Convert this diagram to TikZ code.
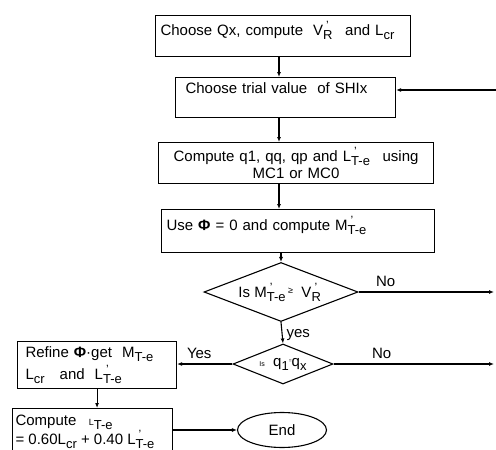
\documentclass[tikz,border=0pt]{standalone}
\usepackage{fontspec}
\setmainfont{Liberation Sans}
\usetikzlibrary{
  shapes.geometric,
  arrows.meta
}
\newcommand{\lowtxt}[1]{\raisebox{-4pt}{\fontsize{13}{13}\selectfont #1}}
\newcommand{\hightxt}[1]{\raisebox{6pt}{\fontsize{12}{12}\selectfont #1}}
\newcommand{\subsup}[2]{\rlap{\lowtxt{#1}}\hspace{3pt}\hightxt{#2}\hspace{-3pt}\hphantom{\lowtxt{#1}}}

\begin{document}
\begin{tikzpicture}[
  x=1pt, y=-1pt,
  line width=1.1pt,
  >={Latex[length=5pt,width=4pt]},
  every node/.style = {font=\fontsize{15}{17}\selectfont, inner sep=0pt},
  box/.style = {shape=rectangle, draw, anchor=north west, inner xsep=5pt},
  lbl/.style = {draw=none}]
  \tikzstyle{decision}=[shape=diamond, draw, aspect=2.6]
  \tikzstyle{flow}=[->]
  \useasboundingbox (0,0) rectangle (496,450);
  \coordinate (spine) at (279,0);
  % main column
  \node[box, minimum width=255, minimum height=41, text width=245, align=left,
    text height=11, text depth=13] (choose) at (155,15)
    {Choose Qx, compute \ V\subsup{R}{'} \ and L\lowtxt{cr}};
  \node[box, minimum width=220, minimum height=40, text width=200, inner xsep=10pt,
    align=left, text height=11, text depth=19] (trial) at (175,77)
    {Choose trial value \ of SHIx};
  \node[box, minimum width=275, minimum height=41, text width=265, align=center] (comp) at (158,142)
    {Compute q1, qq, qp and L\subsup{T-e}{'} \ using\\[0pt] MC1 or MC0};
  \node[box, minimum width=273, minimum height=43, text width=263, align=left,
    text height=11, text depth=13] (use) at (161,209)
    {Use \textbf{Φ} = 0 and compute M\subsup{T-e}{'}};
  \node[decision, minimum width=154, minimum height=59] (cmp) at (281,292)
    {Is M\subsup{T-e}{'}\raisebox{4pt}{\small ≥} \ V\subsup{R}{'}};
  \node[decision, minimum width=100, minimum height=40] (eq) at (283,364)
    {{\scriptsize Is} \ q\lowtxt{1}\raisebox{4pt}{\tiny =}q\lowtxt{x}};
  % left column
  \node[box, minimum width=158, minimum height=47, text width=143, inner xsep=8pt,
    align=left] (refine) at (17,341)
    {Refine \textbf{Φ}·get \ M\lowtxt{T-e}\\[3pt] L\lowtxt{cr} \ \ and \ L\subsup{T-e}{'}};
  \node[box, minimum width=160, minimum height=46, inner xsep=3pt] (final) at (12,408)
    {\raisebox{5pt}{\parbox{154pt}{Compute \ \ {\small L}\lowtxt{T-e}\\[0pt]
      = 0.60L\lowtxt{cr} + 0.40 L\subsup{T-e}{'}}}};
  \node[shape=ellipse, draw, minimum width=89, minimum height=35] (end) at (282,430) {End};
  % free ends on the right
  \coordinate (back) at (496,90);
  \coordinate (out1) at (494,292);
  \coordinate (out2) at (494,364);
  % connectors
  \draw[flow] (choose.south -| spine) -- (trial.north -| spine);
  \draw[flow] (trial.south -| spine) -- (comp.north -| spine);
  \draw[flow] (comp.south -| spine) -- (use.north -| spine);
  \draw[flow] (use.south -| cmp) -- (cmp.north);
  \draw[flow] (cmp.south) -- node[lbl, right, xshift=4pt, yshift=-2pt] (yes) {yes} (eq.north);
  \draw[flow] (cmp.east) -- node[lbl, above, pos=0.2, yshift=5pt] (no1) {No} (out1);
  \draw[flow] (eq.east) -- node[lbl, above, pos=0.3, yshift=5pt] (no2) {No} (out2);
  \draw[flow] (eq.west) -- node[lbl, above, pos=0.6, yshift=5pt] (yes2) {Yes} (eq.west -| refine.east);
  \draw[flow] (back) -- (back -| trial.east);
  \draw[flow] (refine.south) -- (refine.south |- final.north);
  \draw[flow] (final.east |- end.west) -- (end.west);
\end{tikzpicture}
\end{document}
